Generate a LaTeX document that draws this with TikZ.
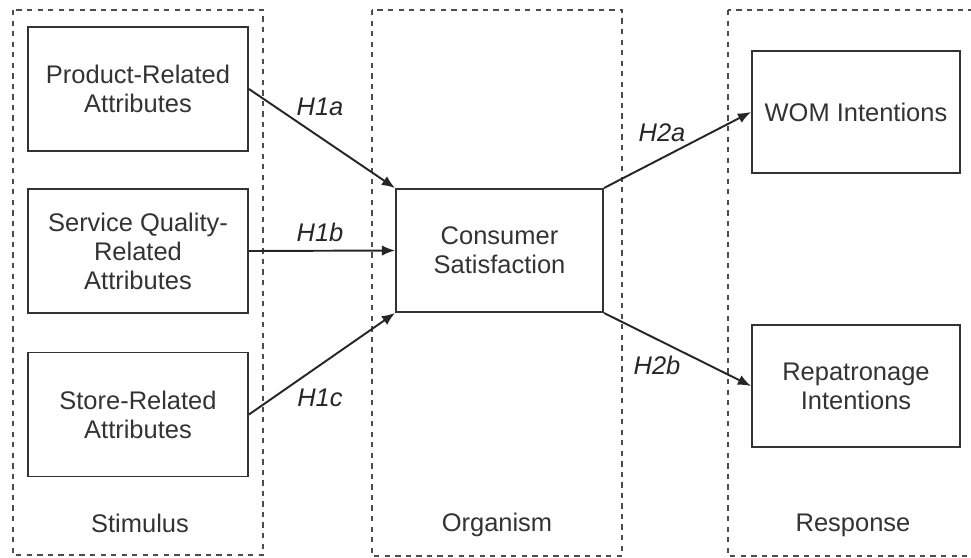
\documentclass[tikz,border=0pt]{standalone}
\usepackage{fontspec}
\setmainfont{Liberation Sans}
\usepackage{tikz}
\usetikzlibrary{arrows,arrows.meta}
\tikzstyle{attr}=[rectangle,draw=black!80,line width=1.1pt,align=center,inner sep=0pt,text=black!80,font=\fontsize{14.5}{16.5}\selectfont]
\tikzstyle{stage}=[draw=black!70,dashed,line width=0.9pt]
\tikzstyle{edge} = [draw,line width=1.1pt,black!85,-{Latex[length=7.5pt,width=6pt]}]
\tikzstyle{weight} = [font=\fontsize{14.5}{16.5}\selectfont\itshape,text=black!85]
\tikzstyle{caption} = [font=\fontsize{14.5}{16.5}\selectfont,text=black!80]

\begin{document}
\begin{tikzpicture}[x=0.02cm,y=-0.02cm]
    \useasboundingbox (0,0) rectangle (971,558);
    % First we draw the three dashed stages
    \draw[stage] (13,10) rectangle (263,555);
    \draw[stage] (372,10) rectangle (622,556);
    \draw[stage] (728,10) rectangle (990,556);
    \foreach \pos/ \name/ \text in {{(140,523)/stim/Stimulus},{(497,525)/orga/Organism},{(853,525)/resp/Response}}
        \node[caption] (\name) at \pos {\text};

    % Then the boxes
    \foreach \pos/ \name/ \text in {{(138,89)/prod/Product-Related\\Attributes},{(138,251)/serv/Service Quality-\\Related\\Attributes},{(138,414.5)/stor/Store-Related\\Attributes}}
        \node[attr,minimum width=4.4cm,minimum height=2.48cm] (\name) at \pos {\text};

    \node[attr,minimum width=4.14cm,minimum height=2.46cm] (cons) at (499.5,250.5) {Consumer\\Satisfaction};

    \foreach \pos/ \name/ \text in {{(856,112)/wom/WOM Intentions},{(856,386)/repa/Repatronage\\Intentions}}
        \node[attr,minimum width=4.16cm,minimum height=2.44cm] (\name) at \pos {\text};

    % Connect boxes with arrows and draw hypotheses
    \path[edge] (prod.east) -- (cons.north west);
    \path[edge] (serv.east) -- (cons.west);
    \path[edge] (stor.east) -- (cons.south west);
    \path[edge] (cons.north east) -- (wom.west);
    \path[edge] (cons.south east) -- (repa.west);

    \foreach \pos/ \name/ \text in {{(320,107)/h1a/H1a},{(320,232)/h1b/H1b},{(320,398)/h1c/H1c},{(662,133)/h2a/H2a},{(657,365)/h2b/H2b}}
        \node[weight] (\name) at \pos {\text};
\end{tikzpicture}
\end{document}
